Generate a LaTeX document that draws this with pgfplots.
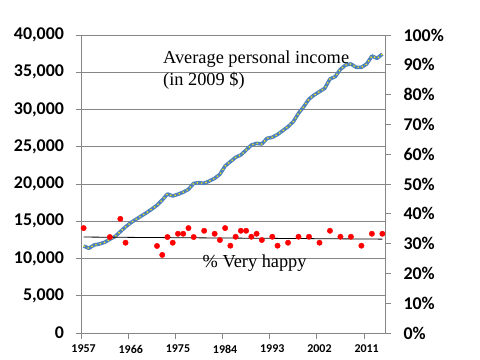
\documentclass[border=0pt]{standalone}
\usepackage{fontspec}
\setmainfont{Liberation Serif}
\newfontfamily\calibri{Carlito}
\usepackage{pgfplots}
\usepackage{pgfplotstable}
\pgfplotsset{compat=1.18}
\definecolor{incblue}{HTML}{4F81BD}
\definecolor{gridgray}{HTML}{868686}
\pgfplotstableread{
year income
1957 11680
1958 11370
1959 11810
1960 11950
1961 12170
1962 12580
1963 12950
1964 13600
1965 14250
1966 14800
1967 15260
1968 15700
1969 16150
1970 16620
1971 17150
1972 17850
1973 18660
1974 18390
1975 18620
1976 18900
1977 19280
1978 20080
1979 20180
1980 20090
1981 20400
1982 20760
1983 21300
1984 22420
1985 23000
1986 23580
1987 23900
1988 24560
1989 25230
1990 25460
1991 25370
1992 26130
1993 26270
1994 26650
1995 27160
1996 27690
1997 28360
1998 29490
1999 30380
2000 31400
2001 31950
2002 32390
2003 32840
2004 34100
2005 34410
2006 35400
2007 35970
2008 36110
2009 35660
2010 35660
2011 36110
2012 37180
2013 36870
2014 37450
}\income
\pgfplotstableread{
year happy
1957 35.2
1962 32.2
1964 38.3
1965 30.3
1971 29.2
1972 26.2
1973 32.2
1974 30.3
1975 33.3
1976 33.3
1977 35.2
1978 32.2
1980 34.3
1982 33.3
1983 31.2
1984 35.2
1985 29.3
1986 32.3
1987 34.3
1988 34.3
1989 32.3
1990 33.3
1991 31.2
1993 32.3
1994 29.3
1996 30.3
1998 32.3
2000 32.3
2002 30.3
2004 34.3
2006 32.3
2008 32.3
2010 29.3
2012 33.3
2014 33.3
}\happy
\begin{document}
\begin{tikzpicture}
\useasboundingbox (-81bp,-27bp) rectangle (399bp,333bp);
\begin{axis}[
  at={(0,0)}, anchor=south west,
  scale only axis, width=304bp, height=298bp,
  xmin=1956.5, xmax=2014.5, ymin=0, ymax=40000,
  axis y line*=left, axis x line*=bottom,
  axis line style={gridgray, line width=0.8bp},
  xtick={1956.5,1965.5,1974.5,1983.5,1992.5,2001.5,2010.5},
  xticklabels={1957,1966,1975,1984,1993,2002,2011},
  ytick={0,5000,...,40000},
  scaled y ticks=false,
  ymajorgrids,
  grid style={gridgray, line width=0.8bp},
  tick align=outside,
  major tick length=5.5bp,
  tick style={gridgray, line width=0.8bp},
  /pgf/number format/assume math mode=true,
  xticklabel style={font=\calibri\bfseries\fontsize{12}{12}\selectfont, xshift=2.6bp, yshift=-3bp},
  yticklabel style={font=\calibri\bfseries\fontsize{18}{18}\selectfont, /pgf/number format/1000 sep={,}, xshift=-8bp},
  clip=false,
]
\addplot[color=incblue, line width=3.6bp, line join=round] table[x=year,y=income]{\income};
\addplot[color=yellow, line width=1.3bp, dash pattern=on 1.2bp off 3.2bp] table[x=year,y=income]{\income};
\node[anchor=base west, inner sep=0, font=\fontsize{18.4}{18.4}\selectfont] at (rel axis cs:0.2697,0.9027) {Average personal income};
\node[anchor=base west, inner sep=0, font=\fontsize{18.4}{18.4}\selectfont] at (rel axis cs:0.2697,0.8322) {(in 2009 \$)};
\node[anchor=base west, inner sep=0, font=\fontsize{18.4}{18.4}\selectfont] at (rel axis cs:0.3997,0.219) {\% Very happy};
\end{axis}
\begin{axis}[
  at={(0,0)}, anchor=south west,
  scale only axis, width=304bp, height=298bp,
  xmin=1956.5, xmax=2014.5, ymin=0, ymax=100,
  axis y line*=right, axis x line=none,
  axis line style={gridgray, line width=0.8bp},
  ytick={0,10,...,100},
  yticklabel={\pgfmathprintnumber{\tick}\%},
  tick align=outside,
  major tick length=6bp,
  tick style={gridgray, line width=0.8bp},
  /pgf/number format/assume math mode=true,
  yticklabel style={font=\calibri\bfseries\fontsize{18}{18}\selectfont, xshift=9bp},
  clip=false,
]
\addplot[color=black, line width=0.8bp] coordinates {(1957,32.2) (2014,31.5)};
\addplot[only marks, mark=*, mark size=2.7bp, color=red, mark options={fill=red, draw=red}] table[x=year,y=happy]{\happy};
\end{axis}
\end{tikzpicture}
\end{document}
